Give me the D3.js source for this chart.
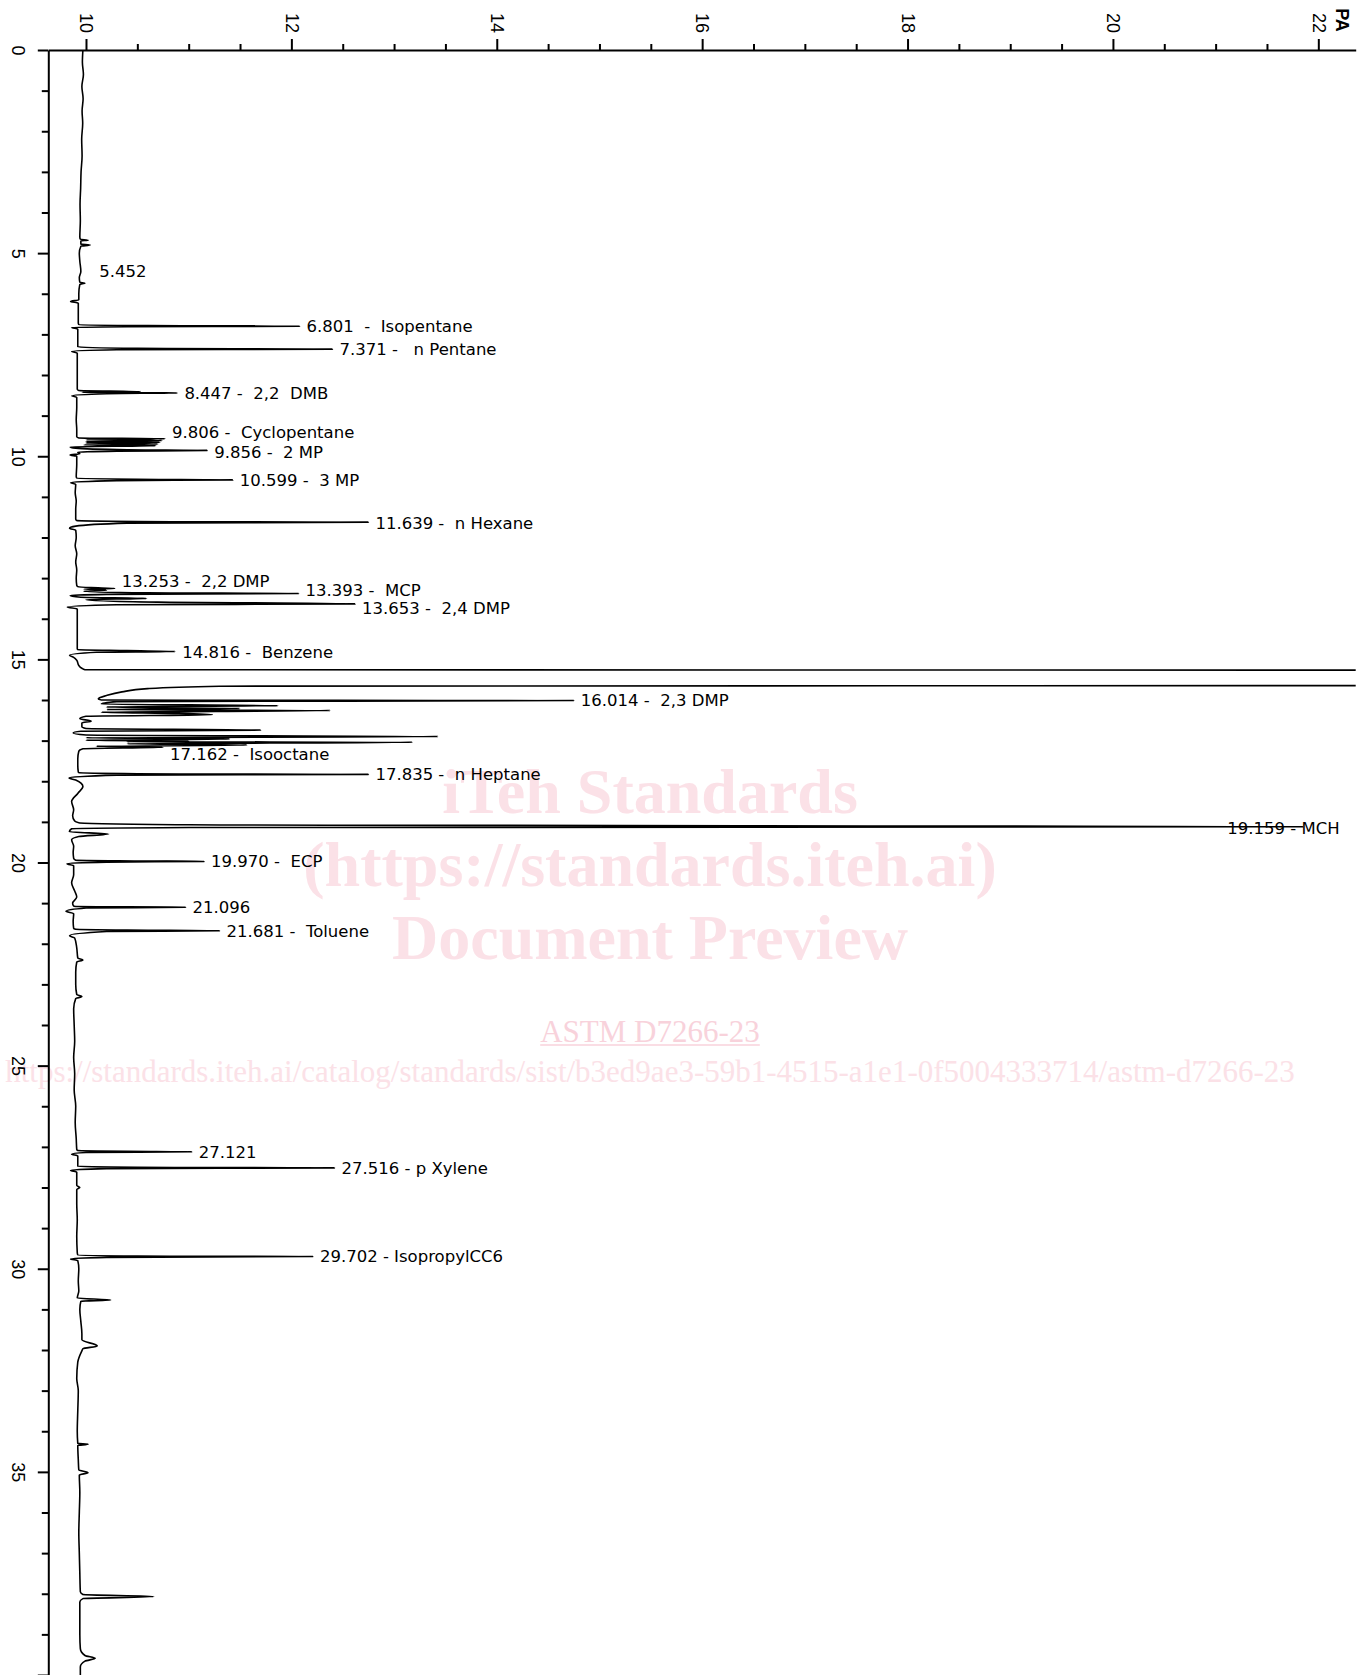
<!DOCTYPE html>
<html>
<head>
<meta charset="utf-8">
<script src="https://cdn.jsdelivr.net/npm/d3@7"></script>
<style>
  body { margin: 0; background: #fff; overflow: hidden; }
  .tick-label { font-family: 'Liberation Sans', Arial, sans-serif; font-size: 18px; fill: #000; }
  .peak-label { font-family: 'DejaVu Sans', Verdana, sans-serif; font-size: 16.5px; white-space: pre; fill: #000; }
  .mark { font-family: 'Liberation Serif', 'Times New Roman', serif; fill: #fbe1e7; }
</style>
</head>
<body>
<svg id="chart" width="1369" height="1675"></svg>
<script>
// axis ticks
const paTicks = [10, 12, 14, 16, 18, 20, 22];
const paMinorTicks = [10.5, 11, 11.5, 12.5, 13, 13.5, 14.5, 15, 15.5, 16.5, 17, 17.5,
                      18.5, 19, 19.5, 20.5, 21, 21.5];
const timeTicks = [0, 5, 10, 15, 20, 25, 30, 35, 40];
const timeTickLabels = ['0', '5', '10', '15', '20', '25', '30', '35', ''];

// trace: [retention time (min), signal (pA)]
const traceStart = [
  [0, 9.97], [0.3, 9.965], [0.6, 9.975], [0.9, 9.96], [1.2, 9.972], [1.5, 9.962],
  [1.8, 9.968], [2.2, 9.958], [2.6, 9.962], [3.0, 9.952], [3.4, 9.948], [3.8, 9.942],
  [4.2, 9.945], [4.6, 9.94], [4.66, 9.945], [4.68, 10.02], [4.70, 9.95], [4.78, 9.95],
  [4.80, 10.04], [4.83, 9.95], [5.0, 9.935], [5.2, 9.94], [5.45, 9.95], [5.6, 9.935],
  [5.72, 9.94], [5.74, 9.99], [5.77, 9.94], [6.0, 9.93], [6.15, 9.93], [6.19, 9.85],
  [6.23, 9.925], [6.5, 9.925], [6.72, 9.925],
  [6.76, 9.93], [6.785, 10.6], [6.80, 12.08], [6.812, 10.4], [6.83, 9.86], [6.87, 9.92],
  [7.1, 9.92], [7.31, 9.92], [7.345, 10.5], [7.362, 12.40], [7.38, 10.3], [7.42, 9.86],
  [7.46, 9.915], [7.8, 9.915], [8.1, 9.915], [8.35, 9.915],
  [8.38, 9.93], [8.41, 10.53], [8.425, 9.96], [8.44, 10.89], [8.46, 10.2], [8.51, 9.86],
  [8.55, 9.91], [8.8, 9.91], [9.1, 9.905], [9.35, 9.91], [9.52, 9.91],
  [9.55, 9.93], [9.57, 10.77], [9.59, 10.0], [9.615, 10.74], [9.635, 10.0], [9.655, 10.72],
  [9.675, 10.0], [9.70, 10.70], [9.72, 9.98], [9.74, 10.68], [9.77, 9.845], [9.80, 9.9],
  [9.84, 10.4], [9.856, 11.18], [9.875, 10.3], [9.90, 9.92], [9.94, 9.94], [9.97, 9.845],
  [10.0, 9.91], [10.2, 9.91], [10.5, 9.905],
  [10.54, 9.91], [10.565, 10.5], [10.582, 11.43], [10.60, 10.3], [10.65, 9.85], [10.69, 9.90],
  [10.9, 9.895], [11.1, 9.905], [11.3, 9.9], [11.55, 9.9],
  [11.58, 9.91], [11.605, 10.5], [11.622, 12.75], [11.645, 10.4], [11.72, 9.90], [11.77, 9.84],
  [11.82, 9.90], [12.0, 9.905], [12.2, 9.895], [12.4, 9.91], [12.6, 9.9], [12.8, 9.91],
  [13.0, 9.905], [13.18, 9.91]
];

const traceMiddle = [
  [13.21, 9.92], [13.235, 10.05], [13.253, 10.28], [13.27, 9.98], [13.30, 10.2], [13.32, 9.98],
  [13.36, 10.6], [13.38, 12.07], [13.40, 10.2], [13.43, 9.845], [13.47, 9.95], [13.50, 10.59],
  [13.53, 10.0], [13.59, 10.7], [13.635, 12.62], [13.655, 10.3], [13.71, 9.818], [13.76, 9.915],
  [13.9, 9.915], [14.2, 9.915], [14.5, 9.915], [14.74, 9.915],
  [14.76, 9.92], [14.785, 10.4], [14.805, 10.87], [14.825, 10.1], [14.90, 9.84], [14.95, 9.88],
  [15.02, 9.91], [15.15, 9.93], [15.22, 9.96], [15.255, 9.99],
  [15.265, 23], [15.30, 40], [15.60, 40], [15.645, 23], [15.66, 11.3], [15.72, 10.6],
  [15.80, 10.35], [15.89, 10.2], [15.97, 10.12],
  [16.0, 10.15], [16.014, 14.75], [16.04, 10.3], [16.10, 10.15], [16.14, 11.87], [16.17, 10.2],
  [16.21, 11.5], [16.235, 10.2], [16.26, 12.38], [16.30, 10.15], [16.33, 10.9], [16.36, 11.23],
  [16.40, 10.0], [16.46, 9.94], [16.52, 10.05], [16.56, 9.96], [16.66, 9.96], [16.70, 10.0],
  [16.74, 11.70], [16.77, 9.95], [16.81, 9.875], [16.86, 10.0], [16.90, 13.43], [16.93, 10.0],
  [16.96, 11.4], [16.99, 10.0], [17.01, 11.0], [17.025, 10.4], [17.04, 13.18], [17.08, 10.4],
  [17.11, 11.57], [17.14, 10.1], [17.162, 10.75], [17.20, 9.97], [17.26, 9.93], [17.45, 9.92],
  [17.6, 9.92], [17.77, 9.925],
  [17.79, 9.93], [17.815, 10.5], [17.83, 12.75], [17.85, 10.3], [17.92, 9.835], [17.97, 9.9],
  [18.13, 9.97], [18.3, 9.92], [18.5, 9.86], [18.7, 9.88], [18.85, 9.87], [18.98, 9.89],
  [19.02, 9.93], [19.07, 11.0], [19.12, 21.85], [19.14, 11.0], [19.17, 9.86], [19.24, 9.838],
  [19.30, 10.22], [19.36, 9.93], [19.44, 9.86], [19.6, 9.88], [19.75, 9.875], [19.9, 9.88],
  [19.945, 9.9], [19.962, 10.5], [19.975, 11.15], [19.99, 10.2], [20.03, 9.815], [20.08, 9.88],
  [20.3, 9.88], [20.5, 9.86], [20.7, 9.89], [20.85, 9.91], [21.0, 9.87], [21.07, 9.88],
  [21.085, 9.9], [21.10, 10.97], [21.12, 10.0], [21.20, 9.805], [21.26, 9.88], [21.45, 9.875],
  [21.62, 9.88], [21.645, 9.9], [21.665, 10.4], [21.68, 11.30], [21.70, 10.2], [21.80, 9.84],
  [21.86, 9.89]
];

const traceLate = [
  [22.1, 9.91], [22.35, 9.92], [22.4, 9.97], [22.45, 9.91], [22.7, 9.9], [23.0, 9.9],
  [23.25, 9.91], [23.3, 9.96], [23.35, 9.9], [23.6, 9.88], [24.0, 9.885], [24.4, 9.89],
  [24.8, 9.88], [25.2, 9.89], [25.6, 9.885], [26.0, 9.9], [26.4, 9.895], [26.8, 9.905],
  [27.06, 9.91], [27.09, 9.92], [27.11, 10.4], [27.121, 11.03], [27.14, 10.0], [27.18, 9.86],
  [27.22, 9.92], [27.45, 9.92], [27.48, 9.92], [27.50, 10.5], [27.516, 12.42], [27.535, 10.2],
  [27.58, 9.85], [27.62, 9.91], [27.95, 9.91], [28.0, 9.94], [28.05, 9.91], [28.4, 9.91],
  [28.8, 9.915], [29.2, 9.91], [29.6, 9.915], [29.66, 9.92], [29.685, 10.5], [29.70, 12.21],
  [29.72, 10.2], [29.76, 9.85], [29.80, 9.92], [30.0, 9.93], [30.3, 9.925], [30.55, 9.93],
  [30.72, 9.915], [30.77, 10.24], [30.80, 9.95], [31.0, 9.94], [31.3, 9.95], [31.6, 9.96],
  [31.75, 9.96], [31.9, 10.11], [31.97, 9.97], [32.02, 9.96], [32.3, 9.92], [32.7, 9.91],
  [33.0, 9.925], [33.5, 9.92], [34.0, 9.915], [34.3, 9.92], [34.32, 10.02], [34.35, 9.92],
  [34.7, 9.925], [34.95, 9.93], [35.02, 10.02], [35.08, 9.935], [35.5, 9.94], [36.0, 9.935],
  [36.5, 9.93], [37.0, 9.935], [37.5, 9.94], [37.95, 9.945], [38.02, 9.97], [38.07, 10.66],
  [38.12, 9.97], [38.2, 9.94], [38.6, 9.94], [39.0, 9.94], [39.35, 9.945], [39.52, 9.99],
  [39.59, 10.09], [39.66, 9.99], [39.8, 9.945], [40, 9.945]
];

// integration labels: retention time, signal where the label starts, text
const peakRT = [5.452, 6.801, 7.371, 8.447, 9.806, 9.856, 10.599, 11.639, 13.253, 13.393,
                13.653, 14.816, 16.014, 17.162, 17.835, 19.159, 19.970, 21.096, 21.681,
                27.121, 27.516, 29.702];
const peakPA = [10.06, 12.08, 12.40, 10.89, 10.77, 11.18, 11.43, 12.75, 10.28, 12.07,
                12.62, 10.87, 14.75, 10.75, 12.75, 21.85, 11.15, 10.97, 11.30,
                11.03, 12.42, 12.21];
const peakText = ['5.452', '6.801  -  Isopentane', '7.371 -   n Pentane', '8.447 -  2,2  DMB',
                  '9.806 -  Cyclopentane', '9.856 -  2 MP', '10.599 -  3 MP', '11.639 -  n Hexane',
                  '13.253 -  2,2 DMP', '13.393 -  MCP', '13.653 -  2,4 DMP', '14.816 -  Benzene',
                  '16.014 -  2,3 DMP', '17.162 -  Isooctane', '17.835 -  n Heptane', '19.159 - MCH',
                  '19.970 -  ECP', '21.096', '21.681 -  Toluene', '27.121', '27.516 - p Xylene',
                  '29.702 - IsopropylCC6'];

const svg = d3.select('#chart');
const width = +svg.attr('width');
const height = +svg.attr('height');
const margin = ({top: 50, right: 13.3, bottom: 0, left: 48.3});

const x = d3.scaleLinear()
  .domain([9.633, 22.364])
  .range([margin.left, width - margin.right]);

const y = d3.scaleLinear()
  .domain([0, 40])
  .range([margin.top, height - margin.bottom]);

// watermark behind the chart
const mark = svg.append('g');
['iTeh Standards', '(https://standards.iteh.ai)', 'Document Preview'].forEach((t, i) => {
  mark.append('text')
    .attr('class', 'mark')
    .attr('x', 650)
    .attr('y', 813 + i * 73)
    .attr('text-anchor', 'middle')
    .style('font-size', '64px')
    .style('font-weight', 'bold')
    .text(t);
});
const astm = mark.append('text')
  .attr('class', 'mark')
  .attr('x', 650)
  .attr('y', 1042)
  .attr('text-anchor', 'middle')
  .style('font-size', '31px')
  .style('fill', '#f8d2db')
  .text('ASTM D7266-23');
const aw = astm.node().getComputedTextLength();
mark.append('line')
  .attr('x1', 650 - aw / 2).attr('x2', 650 + aw / 2)
  .attr('y1', 1045).attr('y2', 1045)
  .attr('stroke', '#f8d2db')
  .attr('stroke-width', 1.5);
mark.append('text')
  .attr('class', 'mark')
  .attr('x', 650)
  .attr('y', 1082)
  .attr('text-anchor', 'middle')
  .style('font-size', '31px')
  .text('https://standards.iteh.ai/catalog/standards/sist/b3ed9ae3-59b1-4515-a1e1-0f5004333714/astm-d7266-23');

// trace
svg.append('clipPath')
    .attr('id', 'plot-clip')
  .append('rect')
    .attr('x', margin.left)
    .attr('y', margin.top - 2)
    .attr('width', width - margin.right - margin.left)
    .attr('height', height - margin.top + 2);

const trace = [].concat(traceStart, traceMiddle, traceLate);

const line = d3.line()
  .x(d => x(d[1]))
  .y(d => y(d[0]))
  .curve(d3.curveMonotoneY);

svg.append('path')
  .datum(trace)
  .attr('clip-path', 'url(#plot-clip)')
  .attr('fill', 'none')
  .attr('stroke', '#000')
  .attr('stroke-width', 1.6)
  .attr('stroke-linejoin', 'round')
  .attr('d', line);

// top axis (signal)
const xMinor = svg.append('g')
  .attr('transform', `translate(0,${margin.top})`)
  .call(d3.axisTop(x).tickValues(paMinorTicks).tickSize(6).tickFormat(''));
xMinor.select('.domain').remove();

const xAxisG = svg.append('g')
  .attr('transform', `translate(0,${margin.top})`)
  .call(d3.axisTop(x).tickValues(paTicks).tickSize(11).tickSizeOuter(0).tickFormat(d3.format('d')));

xAxisG.selectAll('.tick text')
  .attr('class', 'tick-label')
  .attr('transform', 'rotate(90)')
  .attr('x', -17)
  .attr('y', 0)
  .attr('dy', '0.35em')
  .attr('text-anchor', 'end');

svg.append('text')
  .attr('transform', `translate(${width - 27},20) rotate(90)`)
  .attr('text-anchor', 'middle')
  .attr('dy', '0.35em')
  .style('font-family', "'Liberation Sans', Arial, sans-serif")
  .style('font-size', '18px')
  .style('font-weight', 'bold')
  .text('PA');

// left axis (time)
const yMinor = svg.append('g')
  .attr('transform', `translate(${margin.left},0)`)
  .call(d3.axisLeft(y).tickValues(d3.range(1, 40).filter(t => t % 5)).tickSize(6.5).tickFormat(''));
yMinor.select('.domain').remove();

const yAxisG = svg.append('g')
  .attr('transform', `translate(${margin.left},0)`)
  .call(d3.axisLeft(y).tickValues(timeTicks).tickSize(10.5).tickSizeOuter(0)
    .tickFormat((d, i) => timeTickLabels[i]));

yAxisG.selectAll('.tick text')
  .attr('class', 'tick-label')
  .attr('transform', 'rotate(90)')
  .attr('x', 0)
  .attr('y', 30.3)
  .attr('dy', '0.36em')
  .attr('text-anchor', 'middle');

svg.selectAll('.domain, .tick line')
  .attr('stroke-width', 2);

// peak labels
const labelShift = {9.806: -16, 9.856: 2, 13.253: -7, 13.393: -3.5, 13.653: 3.5, 17.162: 7};
const plotRight = x.range()[1];

svg.append('g').selectAll('.peak-label')
  .data(peakRT)
  .enter().append('text')
    .attr('class', 'peak-label')
    .attr('x', (d, i) => x(peakPA[i]) + 7)
    .attr('y', d => y(d) + (labelShift[d] || 0))
    .attr('dy', '0.35em')
    .text((d, i) => peakText[i])
    .each(function() {
      const w = this.getComputedTextLength();
      if (+this.getAttribute('x') + w > plotRight - 10) {
        d3.select(this).attr('x', plotRight - 16).attr('text-anchor', 'end');
      }
    });
</script>
</body>
</html>
